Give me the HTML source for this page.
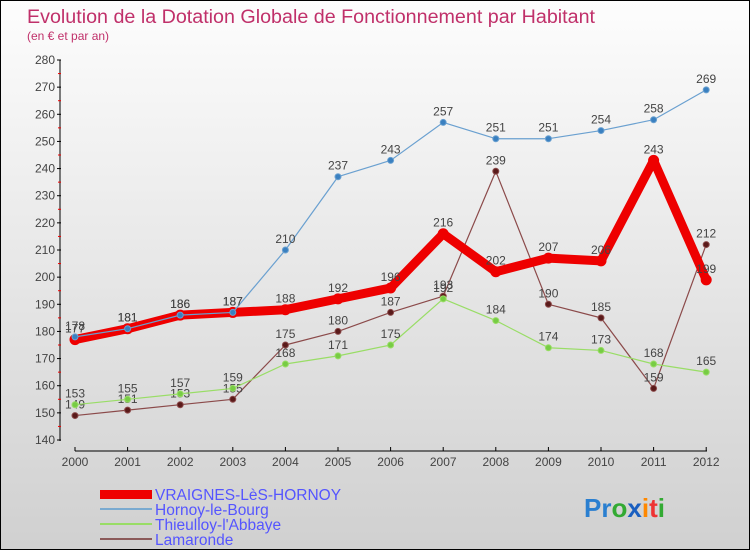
<!DOCTYPE html>
<html><head><meta charset="utf-8"><style>
body{margin:0}
#c{width:748px;height:548px;border:1px solid #000;background:linear-gradient(#fdfdfd,#d0d0d0);position:relative;font-family:"Liberation Sans",sans-serif}
</style></head><body>
<div id="c">
<svg id="s" width="748" height="548" style="position:absolute;left:0;top:0">
<text x="26" y="22" font-size="19.7" fill="#c0306a">Evolution de la Dotation Globale de Fonctionnement par Habitant</text>
<text x="26" y="39" font-size="12" fill="#c0306a">(en € et par an)</text>
<g id="axes"></g><g id="series"></g>
<g>
<rect x="99" y="489" width="52" height="9" fill="#e00"/>
<text x="154" y="499" font-size="15.5" fill="#5555ff">VRAIGNES-LèS-HORNOY</text>
<rect x="99" y="507" width="52" height="2" fill="#7aaad0"/>
<text x="154" y="514" font-size="15.5" fill="#5555ff">Hornoy-le-Bourg</text>
<rect x="99" y="522" width="52" height="2" fill="#99dd66"/>
<text x="154" y="529" font-size="15.5" fill="#5555ff">Thieulloy-l'Abbaye</text>
<rect x="99" y="537" width="52" height="2" fill="#8b5a5a"/>
<text x="154" y="544" font-size="15.5" fill="#5555ff">Lamaronde</text>
</g>
<text x="583" y="516" font-size="26" font-weight="bold"><tspan fill="#2a7fd0">Pr</tspan><tspan fill="#3a3">o</tspan><tspan fill="#1a5fc0">x</tspan><tspan fill="#f80">i</tspan><tspan fill="#e33">t</tspan><tspan fill="#3a3">i</tspan></text>
</svg></div>
<script>
const years=[2000,2001,2002,2003,2004,2005,2006,2007,2008,2009,2010,2011,2012];
const yTicks=[140,150,160,170,180,190,200,210,220,230,240,250,260,270,280];
const vraignes=[177,181,186,187,188,192,196,216,202,207,206,243,199];
const hornoy=[178,181,186,187,210,237,243,257,251,251,254,258,269];
const thieulloy=[153,155,157,159,168,171,175,192,184,174,173,168,165];
const lamaronde=[149,151,153,155,175,180,187,193,239,190,185,159,212];
const NS="http://www.w3.org/2000/svg";
const X=i=>74+i*52.6, Y=v=>439-(v-140)*380/140;
function mk(t,a,p){const e=document.createElementNS(NS,t);for(const k in a)e.setAttribute(k,a[k]);p.appendChild(e);return e;}
const ax=document.getElementById('axes'), sg=document.getElementById('series');
let l=mk('line',{x1:59,y1:59,x2:59,y2:440,stroke:'#000'},ax);


yTicks.forEach(v=>{mk('line',{x1:56,y1:Y(v),x2:60,y2:Y(v),stroke:'#000'},ax);
 if(v<280)mk('line',{x1:57,y1:Y(v+5),x2:60,y2:Y(v+5),stroke:'#e00'},ax);
 const t=mk('text',{x:54,y:Y(v)+4,'font-size':12,fill:'#444','text-anchor':'end'},ax);t.textContent=v;
 
 });
l=mk('line',{x1:74,y1:450,x2:706,y2:450,stroke:'#000'},ax);


years.forEach((y,i)=>{mk('line',{x1:X(i),y1:446,x2:X(i),y2:450,stroke:'#000'},ax);
 const t=mk('text',{x:X(i),y:465,'font-size':12,fill:'#444','text-anchor':'middle'},ax);t.textContent=y;
 
 });
function series(d,col,w,r,name,dot){
 const p=mk('polyline',{points:d.map((v,i)=>X(i)+','+Y(v)).join(' '),fill:'none',stroke:col,'stroke-width':w,'stroke-linejoin':'round'},sg);
 
 
 d.forEach((v,i)=>{const c=mk('circle',{cx:X(i),cy:Y(v),r:r,fill:dot,stroke:col,'stroke-width':1},sg);
  
  
  const t=mk('text',{x:X(i),y:Y(v)-7,'font-size':12,fill:'#444','text-anchor':'middle'},sg);t.textContent=v;
  
  });
}
series(lamaronde,'#8b4a4a',1.2,3,'lamaronde','#5a1a1a');
series(thieulloy,'#99dd66',1.2,3,'thieulloy','#77cc44');
series(vraignes,'#ee0000',9,5,'vraignes','#ee0000');
series(hornoy,'#6aa0d0',1.2,3,'hornoy','#3a80c0');
</script></body></html>
